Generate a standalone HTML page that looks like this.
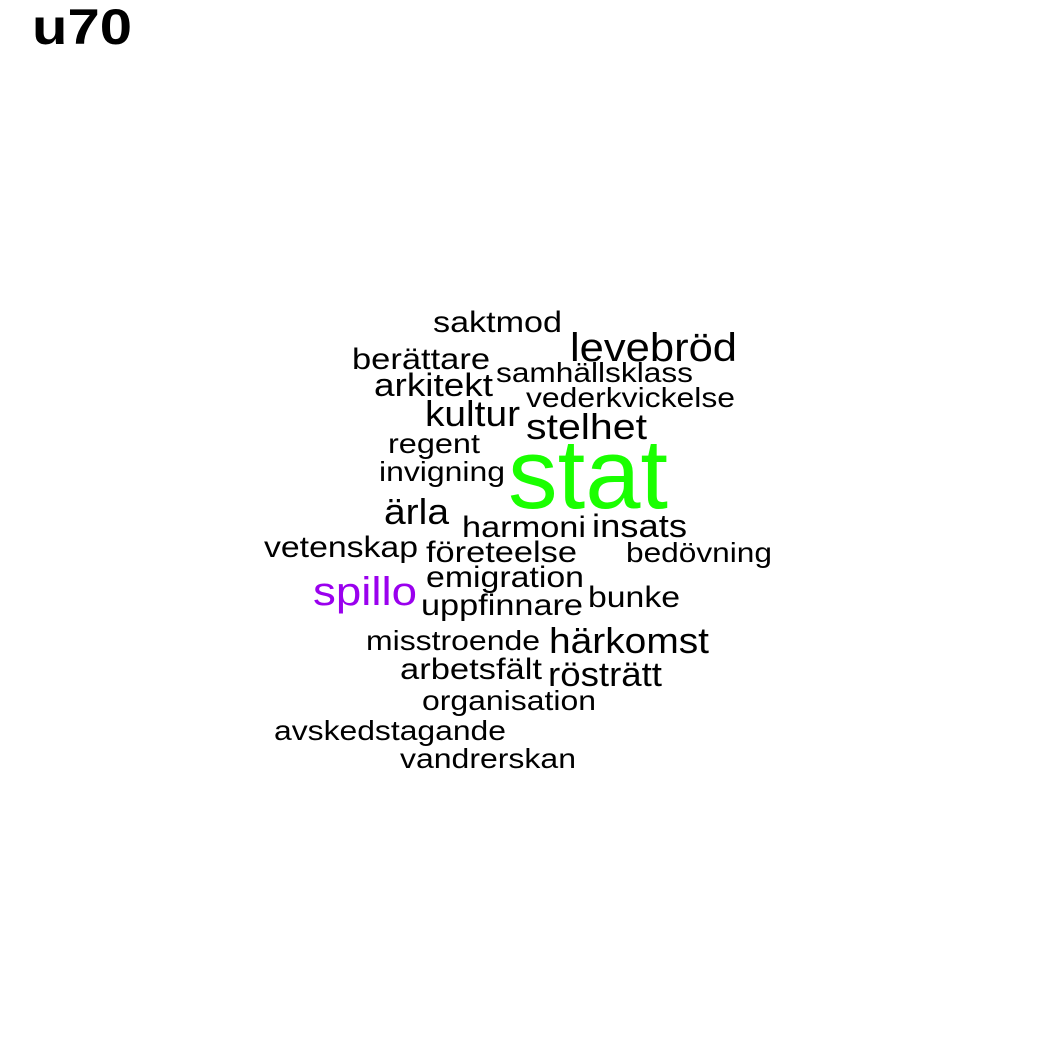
<!DOCTYPE html>
<html><head><meta charset="utf-8"><style>
html,body{margin:0;padding:0;background:#fff;}
svg{display:block;}
text{font-family:"Liberation Sans",Arial,sans-serif;}
</style></head><body>
<svg id="chart" width="1050" height="1050" viewBox="0 0 1050 1050" xmlns="http://www.w3.org/2000/svg">
<rect width="1050" height="1050" fill="#fff"/>
<text x="32" y="44" font-size="50" font-weight="bold" textLength="100" lengthAdjust="spacingAndGlyphs">u70</text>
<g id="words"></g>
</svg>
<script>
const words = ["saktmod","levebröd","berättare","samhällsklass","arkitekt","vederkvickelse","kultur","stelhet","regent","stat","invigning","ärla","harmoni","insats","vetenskap","företeelse","bedövning","emigration","spillo","bunke","uppfinnare","misstroende","härkomst","arbetsfält","rösträtt","organisation","avskedstagande","vandrerskan"];
const colors = ["#000","#000","#000","#000","#000","#000","#000","#000","#000","#1aff00","#000","#000","#000","#000","#000","#000","#000","#000","#9a00ee","#000","#000","#000","#000","#000","#000","#000","#000","#000"];
const xLeft = [433,570,352,496,374,526,425,526,388,508,379,384,462,592,264,426,626,426,313,588,421,366,549,400,548,422,274,400];
const xRight = [562,737,490,693,493,735,520,647,480,668,505,449,586,687,418,577,772,584,417,680,583,540,709,542,662,596,506,576];
const baseY = [332,361,369,382,396,407,426,439,453,508,481,524,537,537,557,562,562,587,605,607,615,650,653,679,686,710,740,768];
const fontSize = [30,40,30,28,32,28,36,36,28,99,28,36,30,32,30,30,28,30,40,30,30,28,36,30,34,28,28,28];
const g = document.getElementById('words');
const NS = "http://www.w3.org/2000/svg";
for (let i = 0; i < words.length; i++) {
  const t = document.createElementNS(NS, 'text');
  
  
  t.setAttribute('x', xLeft[i]);
  t.setAttribute('y', baseY[i]);
  t.setAttribute('font-size', fontSize[i]);
  t.setAttribute('fill', colors[i]);
  t.setAttribute('textLength', xRight[i] - xLeft[i]);
  t.setAttribute('lengthAdjust', 'spacingAndGlyphs');
  t.textContent = words[i];
  g.appendChild(t);
}
</script>
</body></html>
